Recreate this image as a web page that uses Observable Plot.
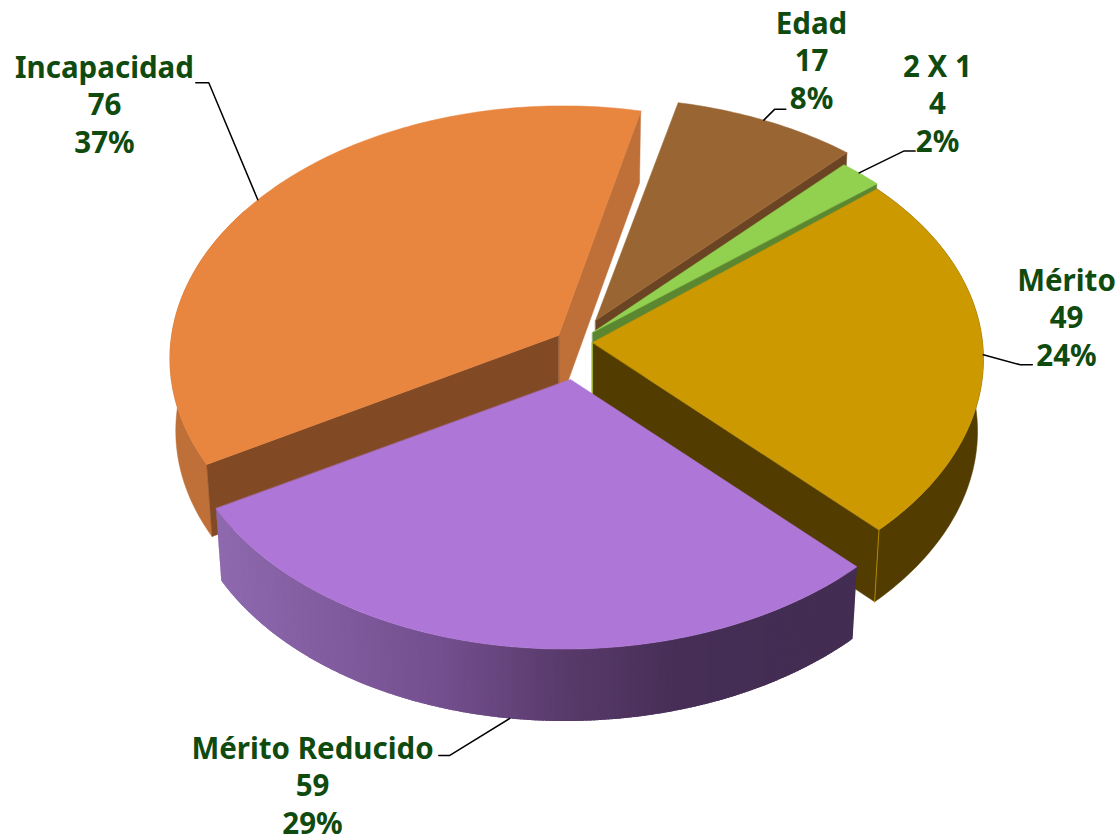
<!DOCTYPE html>
<html lang="es">
<head>
<meta charset="utf-8">
<script src="https://cdn.jsdelivr.net/npm/d3@7"></script>
<script src="https://cdn.jsdelivr.net/npm/@observablehq/plot@0.6"></script>
<style>
html,body{margin:0;padding:0;background:#fff}
svg{display:block}
</style>
</head>
<body>
<div id="chart"></div>
<script>
// Data (clockwise from the top of the pie)
const categories = ["Edad", "2 X 1", "Mérito", "Mérito Reducido", "Incapacidad"];
const values = [17, 4, 49, 59, 76];
const percents = ["8%", "2%", "24%", "29%", "37%"];

// Styles and layout
const topColors = ["#996633", "#92D050", "#CC9900", "#AE76D6", "#E8853E"];
const cutColors = ["#6B4423", "#5B8731", "#523C00", "#452E54", "#824A24"];
const apexes = [[595, 320], [592, 332], [592, 342], [570, 379], [558, 335]];
const radiusX = [1, 1, 1, 1, 0.992];
const radiusY = [0.97, 0.97, 1, 1, 1];
const labelFont = "'Noto Sans', sans-serif";
const W = 1119, H = 838, START = 12.5, DEPTH = 72, RX = 390, RY = 248, K = 0.08, SHRINK = 0.985, SHEAR = 0.02;

const warp = d3.scaleLinear().domain([0, 135, 240, 360]).range([0, 0, 1, 0]);
const total = d3.sum(values);
let acc = START;
const slices = categories.map((name, i) => {
  const a0 = acc; acc += values[i] / total * 360;
  return {name, value: values[i], pct: percents[i], a0, a1: acc, apex: apexes[i], top: topColors[i], cut: cutColors[i], sx: radiusX[i], sy: radiusY[i]};
});

// Tilted disc with slight perspective; angle in degrees clockwise from the back
function pt(s, deg, rho = 1, low = false) {
  const m = ((deg % 360) + 360) % 360;
  const t = (deg + warp(m)) * Math.PI / 180, d = 1 / (1 + K * Math.cos(t));
  const f = low ? SHRINK : 1;
  const dy = -rho * s.sy * RY * Math.cos(t) * d;
  const dx = f * rho * s.sx * RX * Math.sin(t) * d - SHEAR * dy;
  return [s.apex[0] + dx, s.apex[1] + dy + (low ? DEPTH : 0)];
}
const arc = (s, a, b, low) => {
  const n = Math.max(2, Math.ceil(Math.abs(b - a)));
  return d3.range(n + 1).map(i => pt(s, a + (b - a) * i / n, 1, low));
};
let uid = 0;
const makePoly = (target, points, c) => { const id = uid++; points.forEach(p => target.push({x: p[0], y: p[1], id, c})); };
const back = [], wallBands = [], front = [];
const sector = (t, s) => makePoly(t, [s.apex, ...arc(s, s.a0, s.a1, false)], s.top);
const cut = (t, s, deg, c) => makePoly(t, [s.apex, pt(s, deg), pt(s, deg, 1, true), pt(s, deg, 0, true)], c);
const outer = (t, s, a, b, c) => makePoly(t, [...arc(s, a, b, false), ...arc(s, a, b, true).reverse()], c);
const [edad, dos, merito, reducido, incap] = slices;

outer(back, incap, incap.a0, incap.a0 + 62, "#BF6F38");
cut(back, incap, incap.a1 - 360, "#BF6F38");
cut(back, incap, incap.a0, incap.cut);
sector(back, incap);
cut(back, edad, edad.a1, edad.cut);
sector(back, edad);
cut(back, dos, dos.a1, dos.cut);
sector(back, dos);
outer(back, merito, merito.a0, merito.a1, merito.cut);
cut(back, merito, merito.a1, merito.cut);
sector(back, merito);

// Shaded outer wall of the front slice, lit from the left
const purple = d3.scaleLinear().domain([218, 440, 560, 680, 853])
  .range(["#8E69AE", "#744F8F", "#5A3B6C", "#462E56", "#432D52"]);
for (let d = reducido.a0; d < reducido.a1; d += 0.5) {
  const e = Math.min(reducido.a1, d + 0.9);
  makePoly(wallBands, [pt(reducido, d), pt(reducido, e), pt(reducido, e, 1, true), pt(reducido, d, 1, true)],
    d3.color(purple(pt(reducido, d)[0])).formatHex());
}
sector(front, reducido);

// Leader lines: anchored on the rim of each slice at a fraction of its arc
const leaders = [
  {s: edad, f: 0.48, low: false, elbow: [11, -11], end: [22, -11]},
  {s: dos, f: 0.45, low: false, elbow: [45, -22], end: [56, -22]},
  {s: merito, f: 0.505, low: false, elbow: [37, 10], end: [49, 10]},
  {s: reducido, f: 0.499, low: true, elbow: [-60, 37], end: [-71, 37]},
  {s: incap, f: 0.49, low: false, elbow: [-49, -117], end: [-62, -117]}
];
const leaderRows = leaders.flatMap((l, i) => {
  const a = pt(l.s, l.s.a0 + (l.s.a1 - l.s.a0) * l.f, 1, l.low);
  return [a, [a[0] + l.elbow[0], a[1] + l.elbow[1]], [a[0] + l.end[0], a[1] + l.end[1]]]
    .map(p => ({x: p[0], y: p[1], id: i}));
});

// Label blocks: centre x and centre y of first line
const labelPos = [[811, 24], [937, 67], [1066, 281], [312, 749], [104, 68]];
const lineStep = 37.5;
const labelRows = slices.flatMap((s, i) =>
  [s.name, String(s.value), s.pct].map((t, j) => ({t, x: labelPos[i][0], y: labelPos[i][1] + j * lineStep})));

const seamA = [pt(merito, merito.a1), pt(merito, merito.a1, 1, true)].map(p => ({x: p[0], y: p[1]}));
const seamB = [merito.apex, [merito.apex[0], merito.apex[1] + DEPTH - 20]].map(p => ({x: p[0], y: p[1]}));

const chart = Plot.plot({
  width: W, height: H, margin: 0,
  x: {domain: [0, W], range: [0, W], axis: null},
  y: {domain: [0, H], range: [0, H], axis: null},
  color: {type: "identity"},
  style: {background: "#fff"},
  marks: [
    Plot.line(back, {x: "x", y: "y", z: "id", fill: "c", stroke: "c", strokeWidth: 0.5, curve: "linear-closed"}),
    Plot.line(seamA, {x: "x", y: "y", stroke: "#B08A00", strokeWidth: 1}),
    Plot.line(seamB, {x: "x", y: "y", stroke: "#9DB030", strokeWidth: 1}),
    Plot.line(wallBands, {x: "x", y: "y", z: "id", fill: "c", stroke: "none", curve: "linear-closed"}),
    Plot.line(front, {x: "x", y: "y", z: "id", fill: "c", stroke: "c", strokeWidth: 0.5, curve: "linear-closed"}),
    Plot.line(leaderRows, {x: "x", y: "y", z: "id", stroke: "#000", strokeWidth: 1.5}),
    Plot.text(labelRows, {x: "x", y: "y", text: "t", fontFamily: labelFont, fontWeight: 700, fontSize: 29.5, fill: "#0F4A0E", textAnchor: "middle"})
  ]
});
document.getElementById("chart").append(chart);
</script>
</body>
</html>
